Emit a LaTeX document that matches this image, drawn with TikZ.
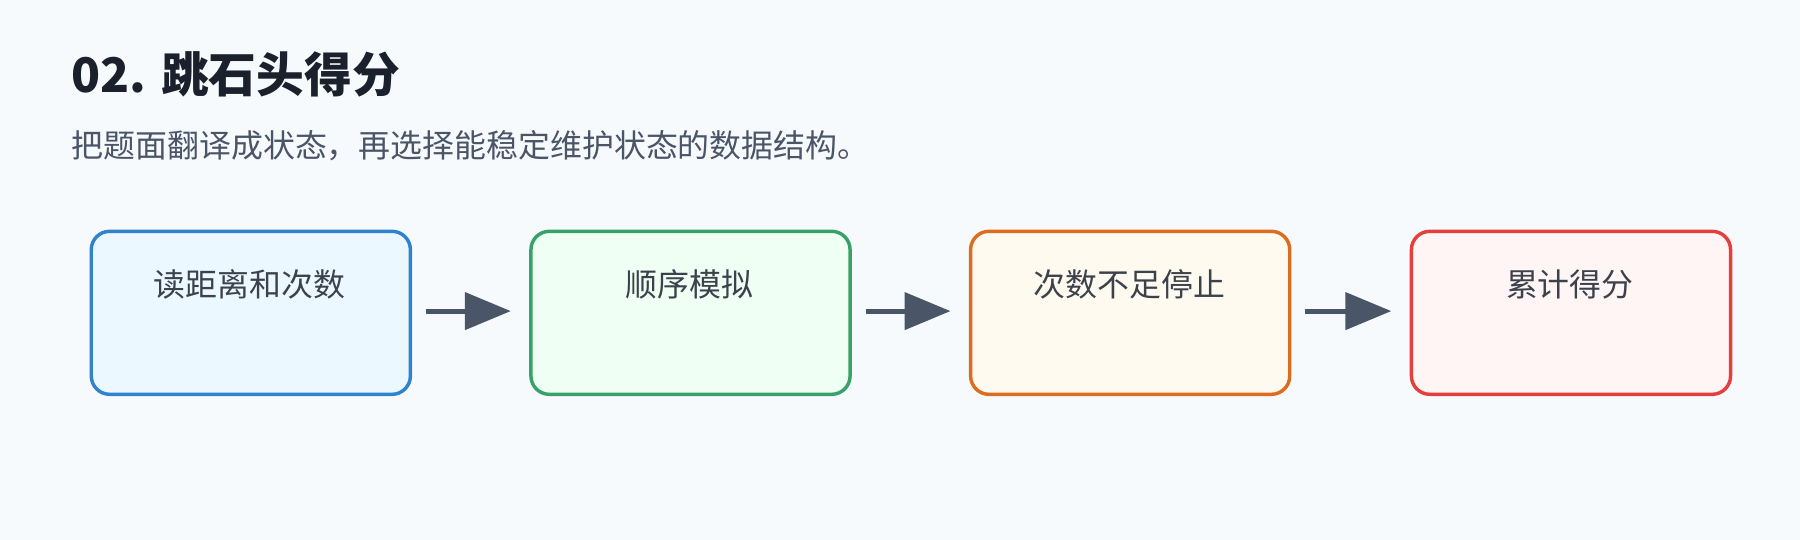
\documentclass[tikz,border=0pt]{standalone}
\usepackage{fontspec}
\setmainfont{Noto Sans CJK SC}
\usetikzlibrary{arrows.meta}
\definecolor{bg}{HTML}{F7FAFC}
\definecolor{ink}{HTML}{1A202C}
\definecolor{sub}{HTML}{4A5568}
\definecolor{b1}{HTML}{3182CE}\definecolor{f1}{HTML}{EBF8FF}
\definecolor{b2}{HTML}{38A169}\definecolor{f2}{HTML}{F0FFF4}
\definecolor{b3}{HTML}{DD6B20}\definecolor{f3}{HTML}{FFFAF0}
\definecolor{b4}{HTML}{E53E3E}\definecolor{f4}{HTML}{FFF5F5}
\begin{document}
\begin{tikzpicture}[x=0.5pt,y=-0.5pt,
  box/.style={draw=#1,line width=1.5pt,rounded corners=8pt,minimum width=139pt,minimum height=71pt,anchor=north west},
  lbl/.style={font=\fontsize{13.9}{16}\selectfont,text=ink!85,anchor=center},
  arr/.style={draw=sub,line width=2.2pt,-{Triangle[length=20pt,width=16pt]}}]
\fill[bg] (0,0) rectangle (1568,470);
\useasboundingbox (0,0) rectangle (1568,470);
\node[anchor=west,inner sep=0pt,font=\bfseries\fontsize{20.8}{24}\selectfont,text=ink] (title) at (62,65) {02. 跳石头得分};
\node[anchor=west,inner sep=0pt,font=\fontsize{13.9}{16}\selectfont,text=sub] (subt) at (62,127) {把题面翻译成状态，再选择能稳定维护状态的数据结构。};
\node[box=b1,fill=f1] (n1) at (78,200) {};
\node[box=b2,fill=f2] (n2) at (461,200) {};
\node[box=b3,fill=f3] (n3) at (844,200) {};
\node[box=b4,fill=f4] (n4) at (1228,200) {};
\node[lbl] (t1) at (217.5,248) {读距离和次数};
\node[lbl] (t2) at (600.5,248) {顺序模拟};
\node[lbl] (t3) at (984,248) {次数不足停止};
\node[lbl] (t4) at (1367.5,248) {累计得分};
\coordinate (a1s) at (371,271); \coordinate (a1e) at (445,271);
\coordinate (a2s) at (754,271); \coordinate (a2e) at (828,271);
\coordinate (a3s) at (1137,271); \coordinate (a3e) at (1212,271);
\draw[arr] (a1s) -- (a1e);
\draw[arr] (a2s) -- (a2e);
\draw[arr] (a3s) -- (a3e);
\end{tikzpicture}
\end{document}
